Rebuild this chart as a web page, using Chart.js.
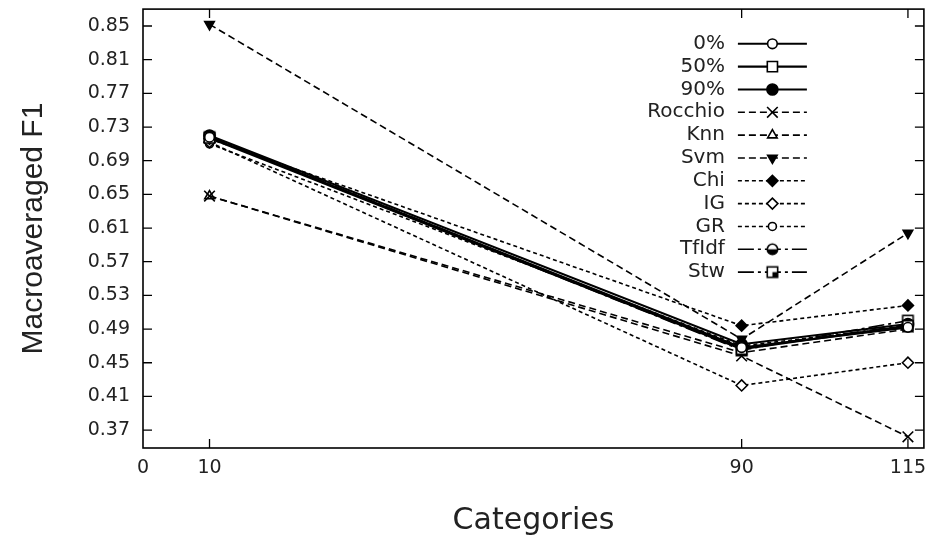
<!DOCTYPE html>
<html><head><meta charset="utf-8">
<script src="https://cdn.jsdelivr.net/npm/chart.js@4.4.0/dist/chart.umd.min.js"></script>
<style>html,body{margin:0;padding:0;background:#fff}</style>
</head><body>
<canvas id="c" width="933" height="543"></canvas>
<script>
// ---- data ----
const categories = [10, 90, 115];
const xTickValues = [0, 10, 90, 115];
const yTickValues = [0.37, 0.41, 0.45, 0.49, 0.53, 0.57, 0.61, 0.65, 0.69, 0.73, 0.77, 0.81, 0.85];
const seriesNames = ['0%', '50%', '90%', 'Rocchio', 'Knn', 'Svm', 'Chi', 'IG', 'GR', 'TfIdf', 'Stw'];
const p0      = [0.718, 0.468, 0.492];
const p50     = [0.717, 0.466, 0.494];
const p90     = [0.720, 0.472, 0.496];
const rocchio = [0.648, 0.458, 0.362];
const knn     = [0.648, 0.462, 0.490];
const svm     = [0.852, 0.478, 0.604];
const chi     = [0.716, 0.494, 0.518];
const ig      = [0.712, 0.423, 0.450];
const gr      = [0.710, 0.470, 0.493];
const tfidf   = [0.719, 0.467, 0.495];
const stw     = [0.718, 0.465, 0.500];
const seriesValues = [p0, p50, p90, rocchio, knn, svm, chi, ig, gr, tfidf, stw];

// ---- marker images for half-filled symbols ----
function halfCircle(r) {
  const s = Math.ceil(2 * r + 4), c = document.createElement('canvas');
  c.width = s; c.height = s; const g = c.getContext('2d'), m = s / 2;
  g.fillStyle = '#fff'; g.beginPath(); g.arc(m, m, r, 0, 2 * Math.PI); g.fill();
  g.fillStyle = '#000'; g.beginPath(); g.arc(m, m, r, 0, Math.PI); g.closePath(); g.fill();
  g.strokeStyle = '#000'; g.lineWidth = 1.6; g.beginPath(); g.arc(m, m, r, 0, 2 * Math.PI); g.stroke();
  return c;
}
function halfSquare(h) {
  const s = Math.ceil(2 * h + 4), c = document.createElement('canvas');
  c.width = s; c.height = s; const g = c.getContext('2d'), m = s / 2;
  g.fillStyle = '#fff'; g.fillRect(m - h, m - h, 2 * h, 2 * h);
  g.fillStyle = '#000'; g.fillRect(m, m, h, h);
  g.strokeStyle = '#000'; g.lineWidth = 1.6; g.strokeRect(m - h, m - h, 2 * h, 2 * h);
  return c;
}

const styles = [
  {dash: [], ps: 'circle', r: 4.8, fill: '#fff'},
  {dash: [], ps: 'rect', r: 7.2, fill: '#fff'},
  {dash: [], ps: 'circle', r: 5.5, fill: '#000'},
  {dash: [7, 4], ps: 'crossRot', r: 7.5, fill: '#000'},
  {dash: [7, 4], ps: 'triangle', r: 5.5, fill: '#fff'},
  {dash: [7, 4], ps: 'triangle', r: 5.5, fill: '#000', rot: 180},
  {dash: [4, 3], ps: 'rectRot', r: 5.5, fill: '#000'},
  {dash: [4, 3], ps: 'rectRot', r: 5.5, fill: '#fff'},
  {dash: [4, 3], ps: 'circle', r: 4, fill: '#fff'},
  {dash: [16, 4, 3, 4], ps: halfCircle(5.2), r: 5, fill: '#000'},
  {dash: [16, 4, 3, 4], ps: halfSquare(5.2), r: 5, fill: '#000'}
];

const datasets = seriesNames.map((name, i) => ({
  label: name,
  data: categories.map((c, j) => ({x: c, y: seriesValues[i][j]})),
  borderColor: '#000',
  borderWidth: i < 3 ? 2.1 : 1.6,
  borderDash: styles[i].dash,
  pointStyle: styles[i].ps,
  pointRadius: styles[i].r,
  pointRotation: styles[i].rot || 0,
  pointBackgroundColor: styles[i].fill,
  pointBorderColor: '#000',
  pointBorderWidth: 1.6,
  tension: 0,
  fill: false
}));

// ---- frame with inward mirrored ticks ----
const framePlugin = {
  id: 'frame',
  beforeDatasetsDraw(chart) {
    const {ctx, chartArea: a, scales: {x, y}} = chart;
    ctx.save();
    ctx.strokeStyle = '#000'; ctx.lineWidth = 1.6;
    ctx.strokeRect(a.left, a.top, a.right - a.left, a.bottom - a.top);
    const L = 9;
    ctx.lineWidth = 1.3;
    ctx.beginPath();
    yTickValues.forEach(v => {
      const py = y.getPixelForValue(v);
      ctx.moveTo(a.left, py); ctx.lineTo(a.left + L, py);
      ctx.moveTo(a.right, py); ctx.lineTo(a.right - L, py);
    });
    xTickValues.forEach(v => {
      if (v === 0) return;
      const px = x.getPixelForValue(v);
      ctx.moveTo(px, a.bottom); ctx.lineTo(px, a.bottom - L);
      ctx.moveTo(px, a.top); ctx.lineTo(px, a.top + L);
    });
    ctx.stroke();
    ctx.restore();
  }
};

// ---- gnuplot-style key: text right-aligned, then sample line with marker ----
const keyPlugin = {
  id: 'gpKey',
  afterDatasetsDraw(chart) {
    const {ctx, chartArea: a} = chart;
    const textRight = a.right - 199;
    const x0 = a.right - 186, x1 = a.right - 117, xm = (x0 + x1) / 2;
    const y0 = a.top + 34.7, dy = 22.83;
    chart.data.datasets.forEach((ds, i) => {
      const yy = y0 + i * dy;
      ctx.save();
      ctx.font = '20px "DejaVu Sans"';
      ctx.fillStyle = '#222'; ctx.textAlign = 'right'; ctx.textBaseline = 'middle';
      ctx.fillText(ds.label, textRight, yy);
      ctx.strokeStyle = '#000'; ctx.lineWidth = ds.borderWidth;
      ctx.setLineDash(ds.borderDash || []);
      ctx.beginPath(); ctx.moveTo(x0, yy); ctx.lineTo(x1, yy); ctx.stroke();
      ctx.setLineDash([]);
      if (Chart.helpers && Chart.helpers.drawPoint) {
        ctx.fillStyle = ds.pointBackgroundColor; ctx.strokeStyle = ds.pointBorderColor;
        ctx.lineWidth = ds.pointBorderWidth;
        Chart.helpers.drawPoint(ctx, {pointStyle: ds.pointStyle, rotation: ds.pointRotation,
          radius: ds.pointRadius, borderWidth: ds.pointBorderWidth}, xm, yy);
      }
      ctx.restore();
    });
  }
};

const tickFont = {family: '"DejaVu Sans"', size: 19};

new Chart(document.getElementById('c'), {
  type: 'line',
  data: {datasets},
  options: {
    responsive: false,
    animation: false,
    devicePixelRatio: 1,
    layout: {padding: {top: 7, right: 4, left: 0, bottom: 0}},
    plugins: {legend: {display: false}, tooltip: {enabled: false}},
    scales: {
      x: {
        type: 'linear', min: 0, max: 117.4,
        afterBuildTicks: s => { s.ticks = xTickValues.map(v => ({value: v})); },
        afterFit: s => { s.height = 95; s.paddingLeft = 0; s.paddingRight = 0; },
        grid: {display: false, drawTicks: false},
        border: {display: false},
        ticks: {font: tickFont, color: '#222', padding: 9, autoSkip: false, maxRotation: 0,
          callback: v => String(v)},
        title: {display: true, text: 'Categories', color: '#222',
          font: {family: '"DejaVu Sans"', size: 30}, padding: {top: 0, bottom: 4}}
      },
      y: {
        type: 'linear', min: 0.3487, max: 0.8701,
        afterBuildTicks: s => { s.ticks = yTickValues.map(v => ({value: v})); },
        afterFit: s => { s.width = 143; s.paddingTop = 0; s.paddingBottom = 0; },
        grid: {display: false, drawTicks: false},
        border: {display: false},
        ticks: {font: tickFont, color: '#222', padding: 13, autoSkip: false,
          callback: v => Number(v).toFixed(2)},
        title: {display: true, text: 'Macroaveraged F1', color: '#222',
          font: {family: '"Liberation Sans"', size: 30}, padding: {top: 16, bottom: 0}}
      }
    }
  },
  plugins: [framePlugin, keyPlugin]
});
</script>
</body></html>
